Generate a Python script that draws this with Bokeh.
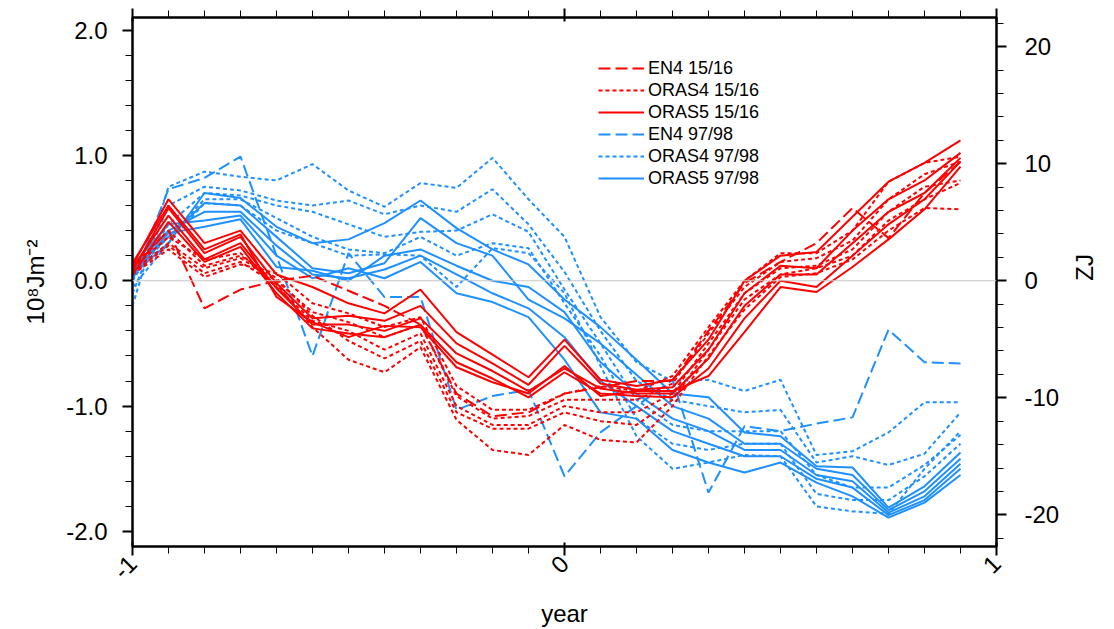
import math
from bokeh.plotting import figure
from bokeh.models import Range1d, LinearAxis, FixedTicker, Legend, LegendItem, Span
from bokeh.embed import file_html
from bokeh.resources import INLINE

# ---- data: monthly values, month -12 .. +11 relative to year 0 ----
month_index = list(range(-12, 12))
years = [m / 12 for m in month_index]

en4_1516 = [0.10, 0.40, -0.22, -0.07, 0.00, 0.04, -0.08, -0.20, -0.35, -0.90, -1.08, -1.05,
            -0.90, -0.85, -0.80, -0.80, -0.40, -0.02, 0.15, 0.30, 0.58, 0.34, 0.70, 0.95]

oras4_1516_a = [0.05, 0.25, 0.03, 0.13, 0.06, -0.18, -0.26, -0.37, -0.29, -0.84, -1.03, -1.03,
                -0.90, -0.84, -0.88, -0.76, -0.37, 0.00, 0.22, 0.22, 0.40, 0.79, 0.94, 0.99]
oras4_1516_b = [0.08, 0.30, 0.10, 0.18, 0.00, -0.25, -0.33, -0.45, -0.35, -0.92, -1.10, -1.08,
                -0.95, -0.95, -0.95, -0.82, -0.42, -0.05, 0.15, 0.18, 0.32, 0.65, 0.85, 0.95]
oras4_1516_c = [0.10, 0.35, 0.17, 0.22, -0.05, -0.32, -0.40, -0.55, -0.42, -1.00, -1.15, -1.15,
                -1.00, -1.05, -1.05, -0.90, -0.50, -0.10, 0.10, 0.12, 0.25, 0.55, 0.75, 0.80]
oras4_1516_d = [0.12, 0.40, 0.12, 0.20, 0.02, -0.28, -0.48, -0.62, -0.48, -1.05, -1.18, -1.18,
                -1.05, -1.12, -1.15, -0.95, -0.55, -0.15, 0.05, 0.10, 0.20, 0.48, 0.65, 0.78]
oras4_1516_e = [0.06, 0.28, 0.06, 0.15, -0.03, -0.37, -0.63, -0.73, -0.53, -1.11, -1.35, -1.39,
                -1.15, -1.27, -1.29, -1.00, -0.60, -0.23, 0.03, 0.06, 0.17, 0.40, 0.58, 0.57]

oras5_1516_a = [0.12, 0.65, 0.30, 0.40, 0.05, -0.05, -0.18, -0.26, -0.07, -0.41, -0.59, -0.77,
                -0.47, -0.79, -0.84, -0.79, -0.47, 0.00, 0.20, 0.23, 0.51, 0.79, 0.94, 1.12]
oras5_1516_b = [0.08, 0.58, 0.22, 0.35, -0.02, -0.30, -0.28, -0.32, -0.20, -0.50, -0.66, -0.83,
                -0.52, -0.82, -0.87, -0.85, -0.55, -0.10, 0.12, 0.10, 0.40, 0.65, 0.80, 1.02]
oras5_1516_c = [0.10, 0.52, 0.17, 0.30, -0.06, -0.35, -0.35, -0.40, -0.30, -0.58, -0.72, -0.88,
                -0.70, -0.86, -0.90, -0.90, -0.62, -0.20, 0.05, 0.05, 0.30, 0.55, 0.70, 0.98]
oras5_1516_d = [0.05, 0.47, 0.15, 0.27, -0.10, -0.38, -0.42, -0.45, -0.35, -0.65, -0.78, -0.93,
                -0.73, -0.90, -0.92, -0.93, -0.70, -0.30, 0.00, -0.05, 0.20, 0.45, 0.65, 0.95]
oras5_1516_e = [0.14, 0.60, 0.25, 0.37, -0.13, -0.33, -0.45, -0.36, -0.37, -0.69, -0.81, -0.90,
                -0.68, -0.92, -0.88, -0.88, -0.76, -0.41, -0.05, -0.09, 0.11, 0.33, 0.57, 0.91]

en4_9798 = [0.00, 0.73, 0.82, 0.99, 0.20, -0.60, 0.22, -0.13, -0.13, -1.03, -0.92, -0.87,
            -1.56, -1.21, -1.00, -0.79, -1.69, -1.16, -1.20, -1.14, -1.09, -0.39, -0.65, -0.66]

oras4_9798_a = [-0.20, 0.75, 0.87, 0.83, 0.80, 0.93, 0.72, 0.59, 0.78, 0.74, 0.98, 0.65,
                0.35, -0.29, -0.65, -0.80, -0.79, -0.88, -0.79, -1.39, -1.36, -1.21, -0.97, -0.97]
oras4_9798_b = [-0.10, 0.60, 0.75, 0.72, 0.64, 0.60, 0.64, 0.53, 0.60, 0.55, 0.73, 0.45,
                0.07, -0.40, -0.80, -0.95, -1.00, -1.05, -1.03, -1.45, -1.40, -1.47, -1.38, -1.05]
oras4_9798_c = [0.00, 0.45, 0.70, 0.68, 0.60, 0.55, 0.45, 0.35, 0.39, 0.40, 0.53, 0.39,
                -0.07, -0.50, -0.95, -1.15, -1.20, -1.20, -1.20, -1.55, -1.65, -1.65, -1.47, -1.23]
oras4_9798_d = [0.05, 0.35, 0.65, 0.65, 0.50, 0.35, 0.25, 0.22, 0.35, 0.20, 0.30, 0.26,
                -0.18, -0.60, -1.10, -1.30, -1.35, -1.30, -1.30, -1.70, -1.75, -1.75, -1.56, -1.30]
oras4_9798_e = [-0.05, 0.30, 0.62, 0.60, 0.40, 0.30, 0.20, 0.21, 0.20, -0.05, 0.26, 0.22,
                -0.10, -0.68, -1.24, -1.50, -1.45, -1.39, -1.40, -1.80, -1.84, -1.86, -1.50, -1.20]

oras5_9798_a = [0.05, 0.30, 0.70, 0.66, 0.43, 0.30, 0.33, 0.46, 0.64, 0.42, 0.25, 0.13,
                -0.15, -0.37, -0.63, -0.90, -0.93, -1.21, -1.24, -1.48, -1.49, -1.81, -1.64, -1.37]
oras5_9798_b = [0.08, 0.35, 0.62, 0.60, 0.35, 0.10, 0.06, 0.14, 0.50, 0.30, 0.20, -0.15,
                -0.30, -0.50, -0.75, -1.00, -1.10, -1.30, -1.30, -1.50, -1.55, -1.83, -1.68, -1.42]
oras5_9798_c = [0.10, 0.40, 0.55, 0.55, 0.28, 0.05, 0.02, 0.09, 0.20, 0.05, -0.10, -0.22,
                -0.45, -0.80, -1.00, -1.20, -1.30, -1.40, -1.40, -1.58, -1.65, -1.87, -1.75, -1.50]
oras5_9798_d = [0.12, 0.45, 0.48, 0.52, 0.20, 0.02, 0.10, 0.02, 0.15, -0.10, -0.17, -0.29,
                -0.63, -1.05, -1.10, -1.35, -1.45, -1.53, -1.45, -1.61, -1.72, -1.89, -1.77, -1.55]
oras5_9798_e = [0.06, 0.38, 0.43, 0.49, 0.11, 0.08, 0.00, 0.20, 0.25, 0.12, 0.00, -0.05,
                -0.25, -0.65, -0.90, -1.10, -1.20, -1.35, -1.35, -1.55, -1.60, -1.85, -1.72, -1.46]

legend_labels = ["EN4 15/16", "ORAS4 15/16", "ORAS5 15/16", "EN4 97/98", "ORAS4 97/98", "ORAS5 97/98"]

left_ticks = [-2, -1, 0, 1, 2]
left_tick_labels = ["-2.0", "-1.0", "0.0", "1.0", "2.0"]
right_ticks = [-20, -10, 0, 10, 20]
right_tick_labels = ["-20", "-10", "0", "10", "20"]
x_ticks = [-1, 0, 1]
x_tick_labels = ["-1", "0", "1"]
zj_per_unit = 10.71   # ZJ per 10^8 J m^-2

# ---- figure ----
FONT = "Liberation Sans"
y0, y1 = -2.12, 2.10
p = figure(width=1114, height=629, x_range=Range1d(-1, 1), y_range=Range1d(y0, y1),
           output_backend="svg", toolbar_location=None,
           min_border_left=132, min_border_right=117, min_border_top=17, min_border_bottom=82,
           x_axis_location=None, y_axis_location=None)
p.extra_y_ranges = {"zj": Range1d(y0 * zj_per_unit, y1 * zj_per_unit)}
p.grid.visible = False
p.outline_line_color = "black"
p.outline_line_width = 2
p.background_fill_color = "white"
p.border_fill_color = "white"

p.add_layout(Span(location=0, dimension="width", line_color="#c8c8c8", line_width=1))

minor_x = [m / 12 for m in range(-12, 13)]

def style_axis(ax, tick_len_out, minor_out, label_size="24px"):
    ax.axis_line_width = 2
    ax.axis_line_color = "black"
    ax.major_tick_line_width = 2
    ax.minor_tick_line_width = 1
    ax.major_tick_out = tick_len_out
    ax.major_tick_in = 0
    ax.minor_tick_out = minor_out
    ax.minor_tick_in = 0
    ax.major_label_text_font = FONT
    ax.major_label_text_font_size = label_size
    ax.major_label_text_color = "black"
    ax.axis_label_text_font = FONT
    ax.axis_label_text_font_size = "24px"
    ax.axis_label_text_font_style = "normal"
    ax.axis_label_text_color = "black"

xb = LinearAxis(ticker=FixedTicker(ticks=x_ticks, minor_ticks=minor_x), axis_label="year")
style_axis(xb, 9, 7)
xb.major_tick_in = 4
xb.major_label_overrides = dict(zip(x_ticks, x_tick_labels))
xb.major_label_orientation = 0.785
xb.major_label_standoff = 4
xb.axis_label_standoff = 10
p.add_layout(xb, "below")

xt = LinearAxis(ticker=FixedTicker(ticks=x_ticks, minor_ticks=minor_x))
style_axis(xt, 9, 7)
xt.major_tick_in = 4
xt.major_label_overrides = {t: "" for t in x_ticks}
xt.major_label_standoff = 0
p.add_layout(xt, "above")

yl = LinearAxis(ticker=FixedTicker(ticks=left_ticks, minor_ticks=[v / 5 for v in range(-10, 11)]),
                axis_label="10\u2078Jm\u207b\u00b2")
style_axis(yl, 10, 7)
yl.major_label_overrides = dict(zip(left_ticks, left_tick_labels))
yl.major_label_standoff = 15
yl.axis_label_standoff = 14
p.add_layout(yl, "left")

yr = LinearAxis(y_range_name="zj", ticker=FixedTicker(ticks=right_ticks, minor_ticks=list(range(-22, 23, 2))))
style_axis(yr, 10, 7)
yr.major_label_overrides = dict(zip(right_ticks, right_tick_labels))
yr.major_label_standoff = 18
p.add_layout(yr, "right")

# right-hand unit title "ZJ", reading bottom-to-top as in the reference:
# an extra bare axis whose single label sits at ZJ = 0 and is rotated 90 deg counter-clockwise
zj_title = LinearAxis(y_range_name="zj", ticker=FixedTicker(ticks=[0], minor_ticks=[]))
zj_title.axis_line_color = None
zj_title.major_tick_line_color = None
zj_title.minor_tick_line_color = None
zj_title.major_tick_out = 0
zj_title.major_tick_in = 0
zj_title.minor_tick_out = 0
zj_title.minor_tick_in = 0
zj_title.major_label_overrides = {0: "ZJ"}
zj_title.major_label_orientation = math.pi / 2
zj_title.major_label_standoff = 22
zj_title.major_label_text_font = FONT
zj_title.major_label_text_font_size = "24px"
zj_title.major_label_text_color = "black"
p.add_layout(zj_title, "right")

RED = "#ff0000"
BLUE = "#1e90ff"
EN4_DASH = "12 5"
ORAS4_DASH = "4 3"

def group(members, color, dash):
    xs = [years for _ in members]
    return p.multi_line(xs=xs, ys=members, line_color=color, line_width=2, line_dash=dash)

r_en4_98 = group([en4_9798], BLUE, EN4_DASH)
r_o4_98 = group([oras4_9798_a, oras4_9798_b, oras4_9798_c, oras4_9798_d, oras4_9798_e], BLUE, ORAS4_DASH)
r_o5_98 = group([oras5_9798_a, oras5_9798_b, oras5_9798_c, oras5_9798_d, oras5_9798_e], BLUE, "solid")
r_en4_16 = group([en4_1516], RED, EN4_DASH)
r_o4_16 = group([oras4_1516_a, oras4_1516_b, oras4_1516_c, oras4_1516_d, oras4_1516_e], RED, ORAS4_DASH)
r_o5_16 = group([oras5_1516_a, oras5_1516_b, oras5_1516_c, oras5_1516_d, oras5_1516_e], RED, "solid")

renderers = [r_en4_16, r_o4_16, r_o5_16, r_en4_98, r_o4_98, r_o5_98]
legend = Legend(items=[LegendItem(label=l, renderers=[r]) for l, r in zip(legend_labels, renderers)],
                location=(466, 357), orientation="vertical")
legend.label_text_font = FONT
legend.label_text_font_size = "18px"
legend.label_text_color = "black"
legend.glyph_width = 46
legend.glyph_height = 22
legend.label_height = 22
legend.label_standoff = 4
legend.spacing = 0
legend.padding = 0
legend.margin = 0
legend.border_line_alpha = 0
legend.background_fill_alpha = 0
p.add_layout(legend, "center")

open("out.html", "w").write(file_html(p, INLINE))
